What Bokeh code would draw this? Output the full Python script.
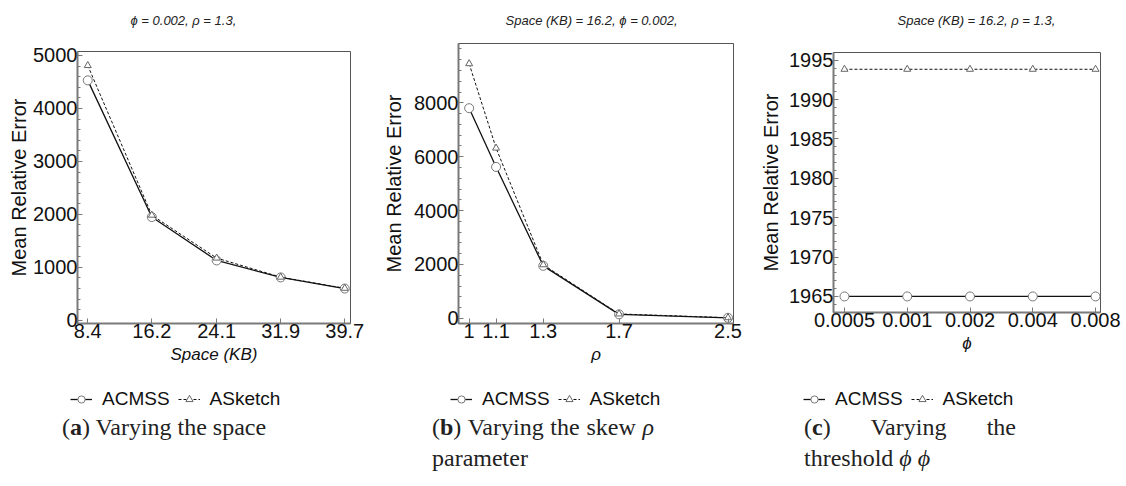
from bokeh.plotting import figure
from bokeh.models import (Range1d, FixedTicker, CustomJSTickFormatter, Legend,
                          LegendItem, Div)
from bokeh.layouts import row, column
from bokeh.embed import file_html
from bokeh.resources import INLINE

# ---------------- data ----------------
space_kb = [8.4, 16.2, 24.1, 31.9, 39.7]
space_acmss = [4530, 1950, 1130, 810, 600]
space_asketch = [4810, 1985, 1175, 815, 605]
space_yticks = [0, 1000, 2000, 3000, 4000, 5000]

skew_rho = [1.0, 1.1, 1.3, 1.7, 2.5]
skew_acmss = [7800, 5620, 1950, 150, 20]
skew_asketch = [9450, 6320, 1990, 165, 25]
skew_yticks = [0, 2000, 4000, 6000, 8000]

phi_vals = [0.0005, 0.001, 0.002, 0.004, 0.008]
phi_acmss = [1965, 1965, 1965, 1965, 1965]
phi_asketch = [1993.85, 1993.85, 1993.85, 1993.85, 1993.85]
phi_yticks = [1965, 1970, 1975, 1980, 1985, 1990, 1995]

series_names = ["ACMSS", "ASketch"]
panel_titles = ["\u03d5 = 0.002, \u03c1 = 1.3,",
                "Space (KB) = 16.2, \u03d5 = 0.002,",
                "Space (KB) = 16.2, \u03c1 = 1.3,"]
x_titles = ["Space (KB)", "\u03c1", "\u03d5"]
y_title = "Mean Relative Error"
captions = ['(<b>a</b>) Varying the space',
            '(<b>b</b>) Varying the skew <i>\u03c1</i> parameter',
            '(<b>c</b>) Varying the threshold <i>\u03d5</i> <i>\u03d5</i>']

SANS = "Liberation Sans"
AXIS_GRAY = "#7a7a7a"
LINE_STYLES = [dict(line_color="#111111", line_width=1.3),
               dict(line_color="#111111", line_width=1, line_dash="3 2")]
MARK_STYLES = [dict(marker="circle", size=9, line_color="#777777",
                    line_width=1, fill_color="white"),
               dict(marker="triangle", size=7, line_color="#666666",
                    line_width=1, fill_color="white")]


def make_panel(x, y1, y2, xticks, yticks, yminor, xr, yr, xtype, title,
               xtitle, width, height, borders, title_offset, title_pad,
               ylabel_standoff):
    bl, br, bt, bb = borders
    p = figure(width=width, height=height, x_axis_type=xtype,
               x_range=Range1d(*xr), y_range=Range1d(*yr),
               output_backend="svg", toolbar_location=None,
               min_border_left=bl, min_border_right=br,
               min_border_top=bt, min_border_bottom=bb)
    p.background_fill_color = "white"
    p.border_fill_color = "white"
    p.outline_line_color = "#555555"
    p.outline_line_width = 1
    p.grid.visible = False

    p.title.text = title
    p.title.text_font = SANS
    p.title.text_font_style = "italic"
    p.title.text_font_size = "13px"
    p.title.text_color = "#222222"
    p.title.align = "left"
    p.title.offset = title_offset
    p.title.standoff = 20
    p.title.padding = dict(top=0, bottom=title_pad, left=0, right=0)

    p.xaxis.ticker = FixedTicker(ticks=xticks)
    p.xaxis.formatter = CustomJSTickFormatter(code="return String(tick)")
    p.yaxis.ticker = FixedTicker(ticks=yticks, minor_ticks=yminor)

    for ax in (p.xaxis[0], p.yaxis[0]):
        ax.axis_line_color = AXIS_GRAY
        ax.axis_line_width = 2
        ax.major_tick_in = 5
        ax.major_tick_out = 0
        ax.minor_tick_in = 3
        ax.minor_tick_out = 0
        ax.major_tick_line_color = AXIS_GRAY
        ax.minor_tick_line_color = AXIS_GRAY
        ax.major_label_text_font = SANS
        ax.major_label_text_font_size = "20px"
        ax.major_label_text_color = "#111111"
        ax.axis_label_text_font = SANS
        ax.axis_label_text_color = "#111111"
    p.xaxis.minor_tick_line_color = None
    p.xaxis.major_label_standoff = 0
    p.yaxis.major_label_standoff = 0
    p.xaxis.axis_label = xtitle
    p.xaxis.axis_label_text_font_style = "italic"
    p.xaxis.axis_label_text_font_size = "17px"
    p.xaxis.axis_label_standoff = 4
    p.yaxis.axis_label = y_title
    p.yaxis.axis_label_text_font_style = "normal"
    p.yaxis.axis_label_text_font_size = "20px"
    p.yaxis.axis_label_standoff = ylabel_standoff

    p.line(x, y1, **LINE_STYLES[0])
    p.scatter(x, y1, **MARK_STYLES[0])
    p.line(x, y2, **LINE_STYLES[1])
    p.scatter(x, y2, **MARK_STYLES[1])
    return p


def make_legend_strip(width, starts):
    lp = figure(width=width, height=27, output_backend="svg",
                toolbar_location=None, x_axis_location=None,
                y_axis_location=None, min_border=0,
                x_range=Range1d(0, 1), y_range=Range1d(0, 1))
    lp.outline_line_color = None
    lp.grid.visible = False
    lp.background_fill_color = "white"
    lp.border_fill_color = "white"
    nan = float("nan")
    for sx in starts:
        items = []
        for name, ls, ms in zip(series_names, LINE_STYLES, MARK_STYLES):
            r1 = lp.line(x=[nan], y=[nan], **ls)
            r2 = lp.scatter(x=[nan], y=[nan], **ms)
            items.append(LegendItem(label=name, renderers=[r1, r2]))
        legend = Legend(items=items, location=(sx, 2),
                        orientation="horizontal",
                        label_text_font=SANS, label_text_font_size="19px",
                        label_text_color="#111111",
                        glyph_width=22, glyph_height=18, label_standoff=10,
                        spacing=8, padding=0, margin=0,
                        border_line_alpha=0, background_fill_alpha=0)
        lp.add_layout(legend, "center")
    return lp


def make_caption(html, width, left):
    return Div(text=html, width=width, margin=(0, 0, 0, left),
               styles={"font-family": "Liberation Serif", "font-size": "24px",
                       "line-height": "31px", "text-align": "justify",
                       "color": "#222222"})


H = 385
W1, W2, W3 = 380, 377, 369
p1 = make_panel(space_kb, space_acmss, space_asketch, space_kb, space_yticks,
                list(range(0, 5001, 200)), (7.15, 40.4), (-60, 5075), "linear",
                panel_titles[0], x_titles[0], W1, H, (77, 30, 51, 62), 53, 14, 0)
p2 = make_panel(skew_rho, skew_acmss, skew_asketch, skew_rho, skew_yticks,
                list(range(0, 10001, 400)), (0.963, 2.549), (-190, 10200), "log",
                panel_titles[1], x_titles[1], W2, H, (75, 24, 43, 62), 47, 6, 6)
p3 = make_panel(phi_vals, phi_acmss, phi_asketch, phi_vals, phi_yticks,
                list(range(1963, 1996)), (0.000443, 0.00845), (1962.96, 1995.98),
                "log", panel_titles[2], x_titles[2], W3, H, (75, 26, 52, 73),
                64, 15, 4)

legend_strip = make_legend_strip(W1 + W2 + W3, [70, 450, 803])

c1 = make_caption(captions[0], 215, 62)
c2 = make_caption(captions[1], 222, 432 - 277)
c3 = make_caption(captions[2], 212, 804 - 654)

layout = column(row(column(p1), column(p2), column(p3), spacing=0),
                legend_strip,
                row(c1, c2, c3, spacing=0),
                spacing=0)

open("out.html", "w").write(file_html(layout, INLINE))
